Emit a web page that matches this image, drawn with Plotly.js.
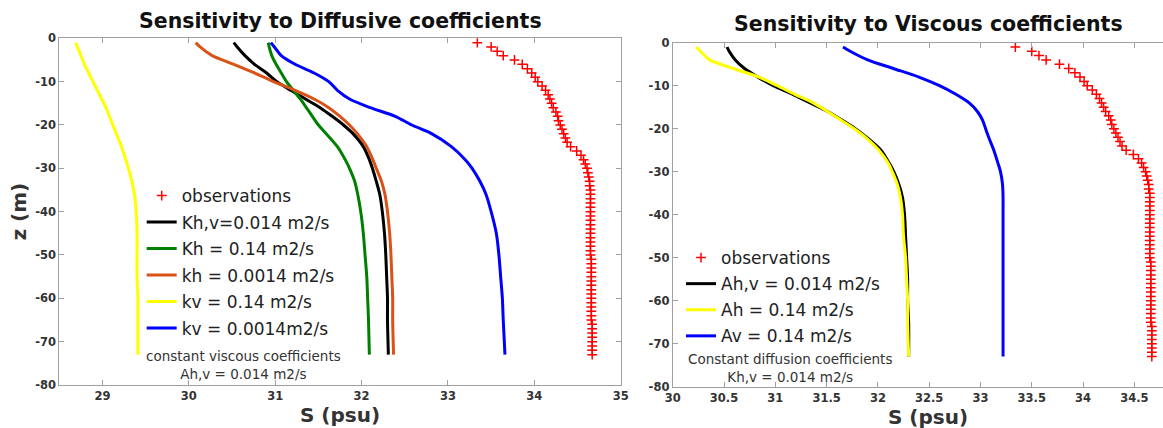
<!DOCTYPE html>
<html>
<head>
<meta charset="utf-8">
<script src="https://cdn.plot.ly/plotly-3.0.1.min.js"></script>
<style>html,body{margin:0;padding:0;background:#fff;}#chart{width:1163px;height:428px;}</style>
</head>
<body>
<div id="chart"></div>
<script>
// ---------- data ----------
const zModel = [-1,-2,-4,-6,-8,-10,-12,-14,-16,-18,-20,-22,-25,-28,-30,-33,-36,-40,-45,-50,-55,-60,-65,-73];

// Left panel: sensitivity to diffusive coefficients
const sCtrlL  = [30.52,30.56,30.65,30.76,30.90,31.02,31.18,31.35,31.52,31.66,31.79,31.90,32.02,32.09,32.125,32.17,32.21,32.24,32.265,32.28,32.29,32.30,32.30,32.31];
const sKh014  = [30.92,30.93,30.96,31.01,31.07,31.13,31.21,31.29,31.36,31.43,31.50,31.59,31.72,31.81,31.86,31.92,31.955,31.99,32.02,32.04,32.06,32.07,32.08,32.09];
const sKh0014 = [30.08,30.13,30.27,30.52,30.76,30.98,31.23,31.45,31.62,31.75,31.86,31.95,32.06,32.13,32.17,32.23,32.27,32.30,32.325,32.34,32.35,32.36,32.36,32.37];
const sKv014  = [28.69,28.71,28.75,28.79,28.84,28.89,28.94,28.99,29.04,29.08,29.12,29.16,29.22,29.27,29.30,29.34,29.37,29.39,29.40,29.40,29.40,29.41,29.41,29.41];
const sKv0014 = [30.95,30.99,31.07,31.23,31.45,31.62,31.72,31.86,32.10,32.39,32.58,32.81,33.04,33.20,33.28,33.37,33.44,33.50,33.56,33.59,33.61,33.63,33.64,33.66];

// Right panel: sensitivity to viscous coefficients
const sCtrlR  = [30.53,30.55,30.61,30.70,30.83,30.98,31.17,31.34,31.51,31.65,31.78,31.89,32.03,32.11,32.155,32.205,32.24,32.26,32.27,32.28,32.29,32.29,32.30,32.30];
const sAh014  = [30.23,30.27,30.36,30.59,30.84,31.02,31.19,31.37,31.51,31.64,31.77,31.88,32.01,32.10,32.14,32.19,32.22,32.24,32.25,32.27,32.28,32.29,32.29,32.30];
const sAv014  = [31.66,31.73,31.90,32.15,32.40,32.60,32.76,32.89,32.97,33.02,33.05,33.08,33.13,33.17,33.195,33.215,33.22,33.22,33.22,33.22,33.22,33.22,33.22,33.22];

// Observations (one per metre)
const zObs = [-1,-2,-3,-4,-5,-6,-7,-8,-9,-10,-11,-12,-13,-14,-15,-16,-17,-18,-19,-20,
  -21,-22,-23,-24,-25,-26,-27,-28,-29,-30,-31,-32,-33,-34,-35,-36,-37,-38,-39,-40,
  -41,-42,-43,-44,-45,-46,-47,-48,-49,-50,-51,-52,-53,-54,-55,-56,-57,-58,-59,-60,
  -61,-62,-63,-64,-65,-66,-67,-68,-69,-70,-71,-72,-73];
const sObs = [33.34,33.50,33.57,33.64,33.77,33.86,33.92,33.97,34.01,34.04,34.09,34.13,34.16,34.18,34.20,34.22,34.25,34.27,34.28,34.30,
  34.32,34.34,34.36,34.38,34.42,34.49,34.54,34.57,34.59,34.61,34.62,34.63,34.64,34.64,34.65,34.65,34.65,34.65,34.65,34.65,
  34.65,34.65,34.65,34.65,34.65,34.65,34.65,34.65,34.65,34.65,34.66,34.66,34.66,34.66,34.66,34.66,34.66,34.66,34.66,34.66,
  34.66,34.66,34.66,34.66,34.66,34.67,34.67,34.67,34.67,34.67,34.67,34.67,34.67];

// Tick labels
const yTickVals = [0,-10,-20,-30,-40,-50,-60,-70,-80];
const yTickText = ['0','-10','-20','-30','-40','-50','-60','-70','-80'];
const xTickValsL = [29,30,31,32,33,34,35];
const xTickTextL = ['29','30','31','32','33','34','35'];
const xTickValsR = [30,30.5,31,31.5,32,32.5,33,33.5,34,34.5];
const xTickTextR = ['30','30.5','31','31.5','32','32.5','33','33.5','34','34.5'];

// ---------- styling ----------
const FONT = 'DejaVu Sans, Noto Sans, sans-serif';
const obsMarker = {symbol:'cross-thin', size:7, color:'#ff0000', line:{color:'#ff0000', width:1.5}};
function line(x, y, color, name, xa, ya, lg) {
  return {x:x, y:y, type:'scatter', mode:'lines', name:name,
          line:{color:color, width:3, shape:'spline', smoothing:0.8},
          xaxis:xa, yaxis:ya, legend:lg, legendgroup:lg+name, hoverinfo:'skip'};
}
const data = [
  {x:sObs, y:zObs, type:'scatter', mode:'markers', name:'observations', marker:obsMarker,
   xaxis:'x', yaxis:'y', legend:'legend', legendgroup:'lobs'},
  line(sCtrlL, zModel, '#000000', 'Kh,v=0.014 m2/s', 'x', 'y', 'legend'),
  line(sKh014, zModel, '#008000', 'Kh = 0.14 m2/s', 'x', 'y', 'legend'),
  line(sKh0014, zModel, '#d95319', 'kh = 0.0014 m2/s', 'x', 'y', 'legend'),
  line(sKv014, zModel, '#ffff00', 'kv = 0.14 m2/s', 'x', 'y', 'legend'),
  line(sKv0014, zModel, '#0000ff', 'kv = 0.0014m2/s', 'x', 'y', 'legend'),

  {x:sObs, y:zObs, type:'scatter', mode:'markers', name:'observations', marker:obsMarker,
   xaxis:'x2', yaxis:'y2', legend:'legend2', legendgroup:'robs'},
  line(sCtrlR, zModel, '#000000', 'Ah,v = 0.014 m2/s', 'x2', 'y2', 'legend2'),
  line(sAh014, zModel, '#ffff00', 'Ah = 0.14 m2/s', 'x2', 'y2', 'legend2'),
  line(sAv014, zModel, '#0000ff', 'Av = 0.14 m2/s', 'x2', 'y2', 'legend2')
];

const W = 1163, H = 428;
const px = v => v / W;
const py = v => (H - v) / H;
const tickFont = {family:FONT, size:11.5, color:'#333', weight:700};
const axisCommon = {showgrid:false, zeroline:false, showline:true, linecolor:'#a0a0a0', linewidth:1,
  ticks:'inside', ticklen:5, tickwidth:1, tickcolor:'#a0a0a0', tickfont:tickFont};

const layout = {
  width:W, height:H, margin:{l:0, r:0, t:0, b:0},
  paper_bgcolor:'#fff', plot_bgcolor:'#fff', showlegend:true,
  xaxis: Object.assign({}, axisCommon, {domain:[px(59.3), px(620.7)], range:[28.5, 35], anchor:'y', mirror:'ticks',
    tickmode:'array', tickvals:xTickValsL, ticktext:xTickTextL,
    title:{text:'S (psu)', font:{family:FONT, size:20, color:'#333', weight:700}, standoff:6}}),
  yaxis: Object.assign({}, axisCommon, {domain:[py(385), py(38.3)], range:[-80, 0], anchor:'x', mirror:'ticks',
    tickmode:'array', tickvals:yTickVals, ticktext:yTickText,
    title:{text:'z (m)', font:{family:FONT, size:20, color:'#333', weight:700}, standoff:3}}),
  xaxis2: Object.assign({}, axisCommon, {domain:[px(672.7), 1], range:[30, 34.779], anchor:'y2', mirror:'ticks',
    tickmode:'array', tickvals:xTickValsR, ticktext:xTickTextR}),
  yaxis2: Object.assign({}, axisCommon, {domain:[py(386.7), py(42.7)], range:[-80, 0], anchor:'x2', mirror:false,
    tickmode:'array', tickvals:yTickVals, ticktext:yTickText}),
  legend: {x:px(141.7), y:py(178), xanchor:'left', yanchor:'top', bgcolor:'rgba(0,0,0,0)', borderwidth:0,
    font:{family:FONT, size:17, color:'#222'}, traceorder:'grouped', tracegroupgap:1.4},
  legend2: {x:px(681), y:py(240), xanchor:'left', yanchor:'top', bgcolor:'rgba(0,0,0,0)', borderwidth:0,
    font:{family:FONT, size:17, color:'#222'}, traceorder:'grouped', tracegroupgap:1.0},
  annotations: [
    {text:'Sensitivity to Diffusive coefficients', xref:'paper', yref:'paper', x:px(340), y:py(21), xanchor:'center', yanchor:'middle',
     showarrow:false, font:{family:FONT, size:20.5, color:'#111', weight:700}},
    {text:'Sensitivity to Viscous coefficients', xref:'paper', yref:'paper', x:px(928), y:py(24), xanchor:'center', yanchor:'middle',
     showarrow:false, font:{family:FONT, size:20.5, color:'#111', weight:700}},
    {text:'S (psu)', xref:'paper', yref:'paper', x:px(928), y:py(416.5), xanchor:'center', yanchor:'middle',
     showarrow:false, font:{family:FONT, size:20, color:'#333', weight:700}},
    {text:'constant viscous coefficients<br>Ah,v = 0.014 m2/s', xref:'paper', yref:'paper', x:px(243.5), y:py(364.5),
     xanchor:'center', yanchor:'middle', align:'center', showarrow:false, font:{family:FONT, size:13.5, color:'#333'}},
    {text:'Constant diffusion coefficients<br>Kh,v = 0.014 m2/s', xref:'paper', yref:'paper', x:px(790.4), y:py(368.2),
     xanchor:'center', yanchor:'middle', align:'center', showarrow:false, font:{family:FONT, size:13.5, color:'#333'}}
  ]
};

Plotly.newPlot('chart', data, layout, {displayModeBar:false, staticPlot:true});
</script>
</body>
</html>
